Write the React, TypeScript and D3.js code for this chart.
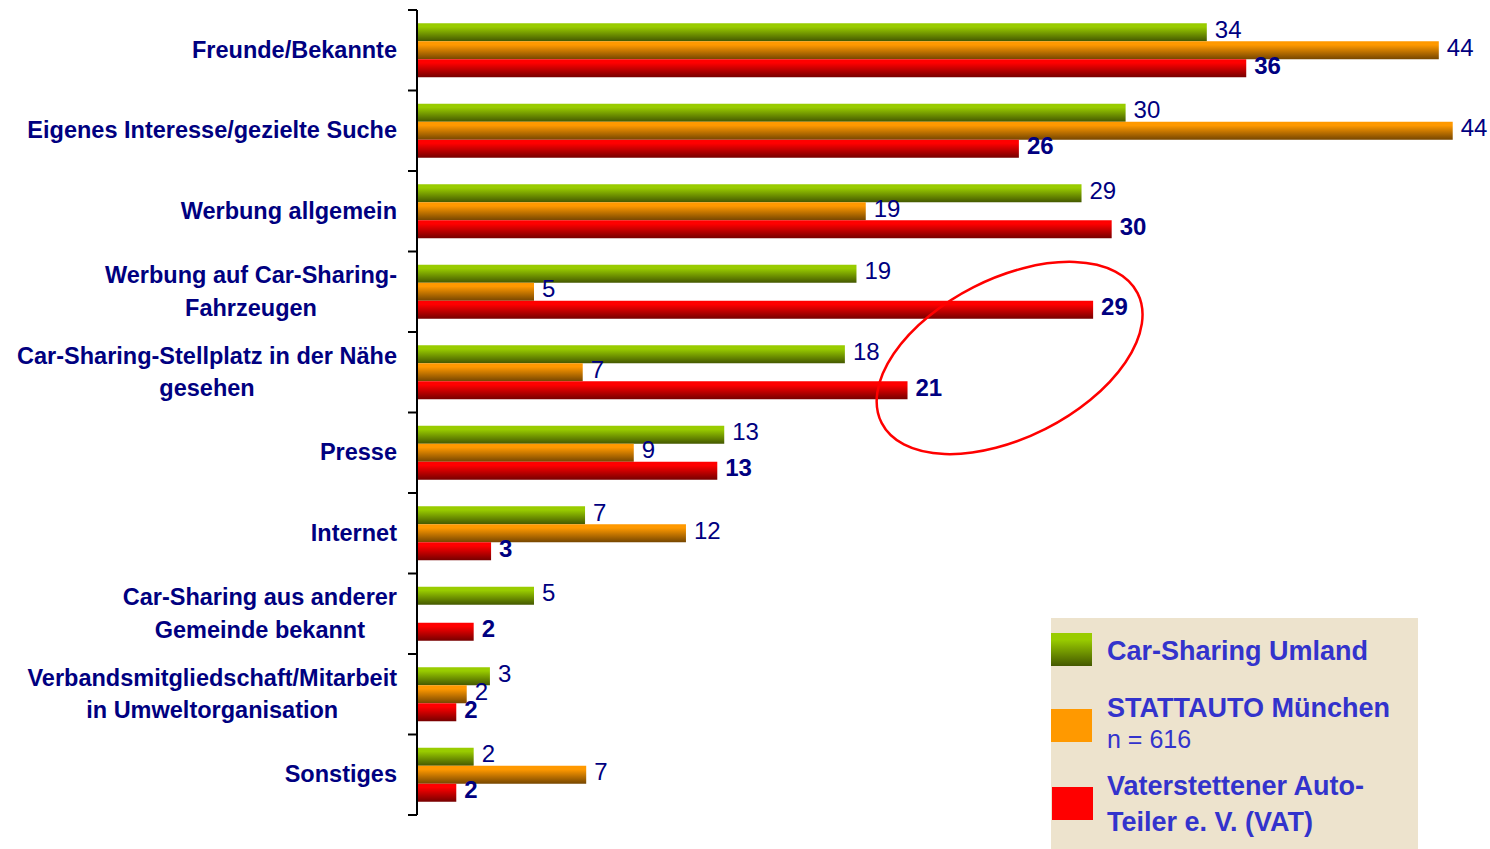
import React, { useEffect, useRef } from "react";
import * as d3 from "d3";

const categories = [
  "Freunde/Bekannte",
  "Eigenes Interesse/gezielte Suche",
  "Werbung allgemein",
  "Werbung auf Car-Sharing-\nFahrzeugen",
  "Car-Sharing-Stellplatz in der Nähe\ngesehen",
  "Presse",
  "Internet",
  "Car-Sharing aus anderer\nGemeinde bekannt",
  "Verbandsmitgliedschaft/Mitarbeit\nin Umweltorganisation",
  "Sonstiges",
];

// bar lengths (percent)
const umland = [34, 30.5, 28.6, 18.9, 18.4, 13.2, 7.2, 5.0, 3.1, 2.4];
const stattauto = [44, 44.6, 19.3, 5.0, 7.1, 9.3, 11.55, null, 2.1, 7.25];
const vat = [35.7, 25.9, 29.9, 29.1, 21.1, 12.9, 3.15, 2.4, 1.65, 1.65];

// printed value labels
const umlandLabels = ["34", "30", "29", "19", "18", "13", "7", "5", "3", "2"];
const stattautoLabels = ["44", "44", "19", "5", "7", "9", "12", null, "2", "7"];
const vatLabels = ["36", "26", "30", "29", "21", "13", "3", "2", "2", "2"];

const seriesNames = ["Car-Sharing Umland", "STATTAUTO München", "Vaterstettener Auto-\nTeiler e. V. (VAT)"];

export default function App() {
  const ref = useRef<SVGSVGElement>(null);

  useEffect(() => {
    const svg = d3.select(ref.current);
    svg.selectAll("*").remove();

    const W = 1490, H = 849;
    const axisX = 417;
    const x = d3.scaleLinear().domain([0, 45]).range([418, 418 + 45 * 23.2]);
    const y = d3.scaleBand<number>().domain(d3.range(categories.length)).range([10, 815]).paddingInner(0).paddingOuter(0);
    const bw = y.bandwidth();
    const inner = d3.scaleBand<number>().domain([0, 1, 2]).range([(bw - 54) / 2, (bw - 54) / 2 + 54]);

    const defs = svg.append("defs");
    const grads = [
      { id: "gGreen", top: "#99CC00", bot: "#445800" },
      { id: "gOrange", top: "#FF9900", bot: "#764600" },
      { id: "gRed", top: "#FF0000", bot: "#760000" },
    ];
    grads.forEach((g) => {
      const lg = defs.append("linearGradient").attr("id", g.id).attr("x1", 0).attr("y1", 0).attr("x2", 0).attr("y2", 1);
      lg.append("stop").attr("offset", "0").attr("stop-color", g.top);
      lg.append("stop").attr("offset", "0.2").attr("stop-color", g.top);
      lg.append("stop").attr("offset", "1").attr("stop-color", g.bot);
    });

    const series = [
      { vals: umland, labels: umlandLabels, fill: "url(#gGreen)", bold: false },
      { vals: stattauto, labels: stattautoLabels, fill: "url(#gOrange)", bold: false },
      { vals: vat, labels: vatLabels, fill: "url(#gRed)", bold: true },
    ];

    const font = "'Liberation Sans', Arial, sans-serif";
    const navy = "#000080";

    series.forEach((s, si) => {
      s.vals.forEach((v, i) => {
        if (v == null) return;
        const y0 = (y(i) as number) + (inner(si) as number);
        svg.append("rect")
          .attr("x", x(0)).attr("y", y0)
          .attr("width", x(v) - x(0)).attr("height", inner.bandwidth())
          .attr("fill", s.fill);
      });
    });

    series.forEach((s, si) => {
      s.vals.forEach((v, i) => {
        if (v == null || s.labels[i] == null) return;
        const yc = (y(i) as number) + (inner(si) as number) + inner.bandwidth() / 2;
        svg.append("text")
          .attr("x", x(v) + 8).attr("y", yc + 5.5)
          .attr("font-family", font).attr("font-size", 24)
          .attr("font-weight", s.bold ? "bold" : "normal")
          .attr("fill", navy)
          .text(s.labels[i] as string);
      });
    });

    // axis
    svg.append("line").attr("x1", axisX).attr("x2", axisX).attr("y1", 10).attr("y2", 815)
      .attr("stroke", "#000").attr("stroke-width", 2);
    const ticks = d3.range(categories.length + 1).map((k) => 10 + k * bw);
    ticks.forEach((t) => {
      svg.append("line").attr("x1", 408).attr("x2", axisX).attr("y1", t).attr("y2", t)
        .attr("stroke", "#000").attr("stroke-width", 2);
    });

    // category labels
    categories.forEach((c, i) => {
      const lines = c.split("\n");
      const yc = (y(i) as number) + bw / 2;
      const g = svg.append("g");
      const texts = lines.map((l, li) =>
        g.append("text")
          .attr("y", yc + (li - (lines.length - 1) / 2) * 32.5 + 7.5)
          .attr("font-family", font).attr("font-size", 23.5).attr("font-weight", "bold")
          .attr("fill", navy).attr("text-anchor", "middle")
          .text(l)
      );
      const widths = texts.map((t) => (t.node() as SVGTextElement).getComputedTextLength());
      const maxW = d3.max(widths) as number;
      const cx = 397 - maxW / 2;
      texts.forEach((t) => t.attr("x", cx));
    });

    // annotation ellipse
    const ecx = x(25.5), ecy = (y(4) as number) + 26;
    svg.append("ellipse")
      .attr("cx", 0).attr("cy", 0).attr("rx", 143.5).attr("ry", 79.5)
      .attr("transform", `translate(${ecx},${ecy}) rotate(-26.9)`)
      .attr("fill", "none").attr("stroke", "#FF0000").attr("stroke-width", 2.5);

    // legend
    const lg = svg.append("g");
    lg.append("rect").attr("x", 1051).attr("y", 618).attr("width", 367).attr("height", 231).attr("fill", "#EDE3CD");
    const swatchY = [633, 709, 787];
    const swatchFill = ["url(#gGreen)", "#FF9900", "#FF0000"];
    swatchY.forEach((sy, k) => {
      lg.append("rect").attr("x", 1051 + (k === 2 ? 1 : 0)).attr("y", sy).attr("width", 41).attr("height", 33).attr("fill", swatchFill[k]);
    });
    const lcol = "#3333CC";
    const legendLines = [
      { t: seriesNames[0], y: 660, bold: true },
      { t: seriesNames[1], y: 717, bold: true },
      { t: "n = 616", y: 748, bold: false },
      { t: seriesNames[2].split("\n")[0], y: 795, bold: true },
      { t: seriesNames[2].split("\n")[1], y: 831, bold: true },
    ];
    legendLines.forEach((l) => {
      lg.append("text").attr("x", 1107).attr("y", l.y)
        .attr("font-family", font).attr("font-size", l.bold ? 27 : 25)
        .attr("font-weight", l.bold ? "bold" : "normal")
        .attr("fill", lcol).text(l.t);
    });

    svg.attr("width", W).attr("height", H);
  }, []);

  return (
    <svg ref={ref} width={1490} height={849} style={{ position: "absolute", left: 0, top: 0, background: "#fff" }} />
  );
}
